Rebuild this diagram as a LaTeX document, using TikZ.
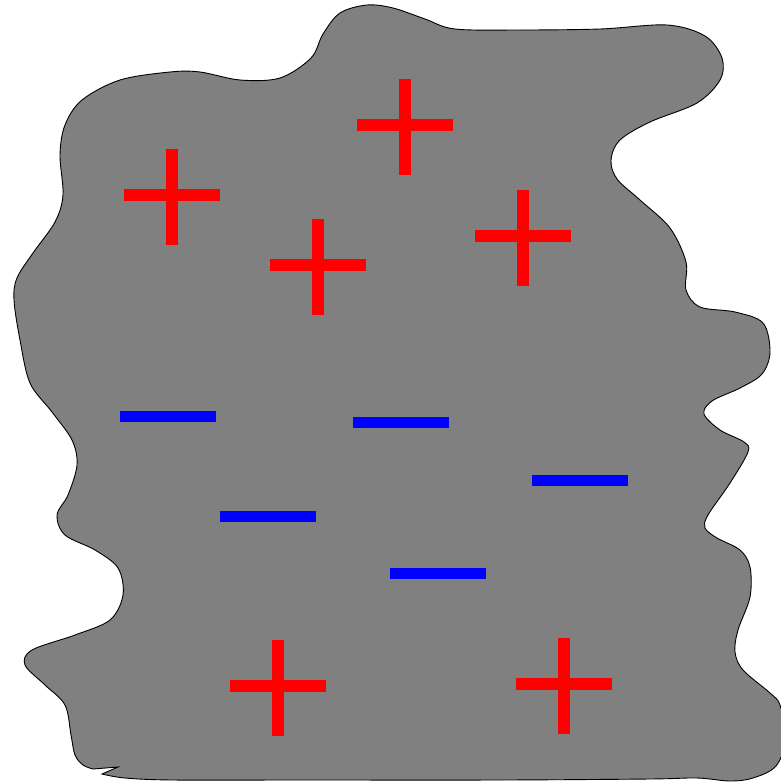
\documentclass[tikz,border=0pt]{standalone}
\begin{document}
\begin{tikzpicture}[x=1pt,y=-1pt,
  blob/.style={fill={rgb,255:red,128;green,128;blue,128},draw=black,line width=0.9pt},
  plusbar/.style={fill=red,draw=none},
  minusbar/.style={fill=blue,draw=none}]
\useasboundingbox (0,0) rectangle (780,784);
\path[blob] plot[smooth,tension=0.55] coordinates {
 (102,774) (125,778) (173,780) (300,780) (500,780) (650,779) (697,778) (730,781) (753,778) (776,766) (786,738) (780,705)
 (770,693) (743,670) (735,652) (738,630) (750,597) (750,567) (740,550) (717,538) (705,528) (708,515)
 (730,483) (748,452) (744,442) (720,430) (704,414) (712,401) (740,388) (762,374) (770,352) (763,323) (735,312) (700,307) (686,290) (686,262)
 (670,228) (640,200) (617,179) (611,160) (620,140) (650,122) (697,103) (720,80) (722,58) (705,36) (667,25) (600,29) (520,30) (455,29)
 (425,19) (393,8) (367,5) (340,13) (323,34) (311,58) (280,78) (240,80) (200,72) (170,72) (120,80) (82,100) (65,125) (60,155) (63,195)
 (55,222) (33,253) (17,278) (14,300) (20,340) (30,383) (52,412) (72,440) (77,465) (68,495) (57,515) (65,535) (95,550) (118,568)
 (123,595) (110,620) (75,635) (32,650) (25,665) (45,685) (65,705) (71,735) (75,755) (83,765) (93,769)}
 -- (118,767) -- cycle;
% plus signs
\foreach \n/\cx/\cy/\hy in {pa/172/197/195, pb/405/127/125, pc/318/267/265, pd/523/238/236, pe/278/688/686, pf/564/686/684}{
  \fill[plusbar] (\cx-48,\hy-6) rectangle (\cx+48,\hy+6);
  \fill[plusbar] (\cx-6,\cy-48) rectangle (\cx+6,\cy+48);
}
% minus signs
\foreach \n/\cx/\cy in {ma/168/416, mb/401/422, mc/580/480, md/268/516, me/438/573}{
  \fill[minusbar] (\cx-48,\cy-5.5) rectangle (\cx+48,\cy+5.5);
}
\end{tikzpicture}
\end{document}
